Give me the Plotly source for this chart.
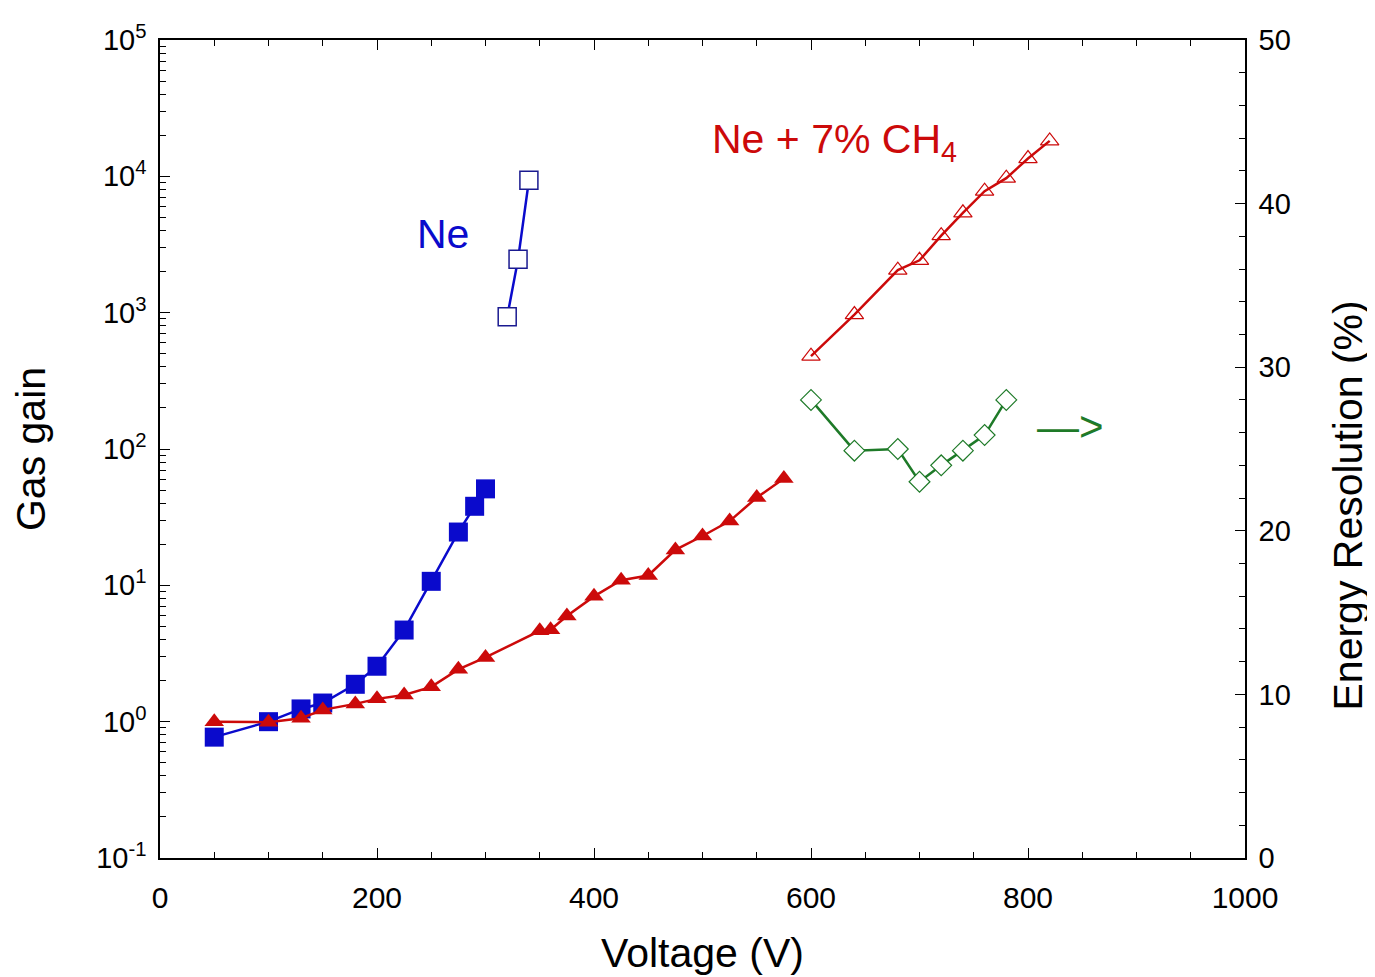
import plotly.graph_objects as go

# Ne (filled squares)
ne_v = [50, 100, 130, 150, 180, 200, 225, 250, 275, 290, 300]
ne_g = [0.77, 1.0, 1.24, 1.37, 1.88, 2.55, 4.7, 10.7, 24.6, 38, 51]

# Ne high gain (open squares)
ne_hi_v = [320, 330, 340]
ne_hi_g = [935, 2460, 9350]

# Ne + 7% CH4 (filled triangles)
mix_v = [50, 100, 130, 150, 180, 200, 225, 250, 275, 300, 350, 360, 375, 400, 425, 450, 475, 500, 525, 550, 575]
mix_g = [1.0, 0.99, 1.06, 1.22, 1.35, 1.47, 1.57, 1.80, 2.42, 2.96, 4.64, 4.72, 5.96, 8.3, 10.9, 11.8, 18.2, 23, 29.6, 44, 60.7]

# Ne + 7% CH4 high gain (open triangles)
mix_hi_v = [600, 640, 680, 700, 720, 740, 760, 780, 800, 820]
mix_hi_g = [480, 968, 2050, 2420, 3670, 5400, 7780, 9700, 13500, 18200]

# Energy resolution (open diamonds, right axis)
res_v = [600, 640, 680, 700, 720, 740, 760, 780]
res_r = [28, 24.9, 25.0, 23, 24.0, 24.9, 25.85, 28]

# Tick labels
x_ticks = [0, 200, 400, 600, 800, 1000]
y_ticks = [0.1, 1, 10, 100, 1000, 10000, 100000]
y_ticktext = ["10<sup>-1</sup>", "10<sup>0</sup>", "10<sup>1</sup>", "10<sup>2</sup>",
              "10<sup>3</sup>", "10<sup>4</sup>", "10<sup>5</sup>"]

BLUE = "#0a0acc"
RED = "#cc0a0a"
GREEN = "#1e7a28"
FONT = "Liberation Sans"

fig = go.Figure()
fig.add_trace(go.Scatter(x=ne_v, y=ne_g, mode="lines+markers",
                         line=dict(color=BLUE, width=2.5),
                         marker=dict(symbol="square", size=19, color=BLUE)))
fig.add_trace(go.Scatter(x=ne_hi_v, y=ne_hi_g, mode="lines+markers",
                         line=dict(color=BLUE, width=2.5),
                         marker=dict(symbol="square", size=18, color="white",
                                     line=dict(color="#1a1a90", width=1.5))))
fig.add_trace(go.Scatter(x=mix_v, y=mix_g, mode="lines+markers",
                         line=dict(color=RED, width=2.5),
                         marker=dict(symbol="triangle-up", size=17, color=RED)))
fig.add_trace(go.Scatter(x=mix_hi_v, y=mix_hi_g, mode="lines+markers",
                         line=dict(color=RED, width=2.5),
                         marker=dict(symbol="triangle-up-open", size=16, color=RED,
                                     line=dict(width=1.2))))
fig.add_trace(go.Scatter(x=res_v, y=res_r, mode="lines+markers", yaxis="y2",
                         line=dict(color=GREEN, width=2.5),
                         marker=dict(symbol="diamond", size=16, color="white",
                                     line=dict(color=GREEN, width=1.2))))

fig.update_layout(
    width=1375, height=977,
    margin=dict(l=152, r=138, t=22, b=127),
    plot_bgcolor="white", paper_bgcolor="white",
    showlegend=False,
    font=dict(family=FONT, color="black", size=28),
    xaxis=dict(range=[0, 1000], tickvals=x_ticks,
               ticks="inside", ticklen=10, tickwidth=1.2, tickcolor="black",
               minor=dict(ticks="inside", ticklen=6, dtick=50, tickcolor="black"),
               showline=True, linecolor="black", linewidth=1.5, mirror="ticks",
               showgrid=False, zeroline=False, ticklabelstandoff=12,
               tickfont=dict(size=30, family=FONT),
               title=dict(text="Voltage (V)", font=dict(size=41, family=FONT), standoff=26)),
    yaxis=dict(type="log", range=[-1, 5], tickvals=y_ticks, ticktext=y_ticktext,
               ticks="inside", ticklen=10, tickwidth=1.2, tickcolor="black",
               minor=dict(ticks="inside", ticklen=6, tickcolor="black",
                          tickvals=[m * 10 ** e for e in range(-1, 5) for m in range(2, 10)]),
               showline=True, linecolor="black", linewidth=1.5,
               showgrid=False, zeroline=False, ticklabelstandoff=6,
               tickfont=dict(size=29, family=FONT),
               title=dict(text="Gas gain", font=dict(size=41, family=FONT), standoff=40)),
    yaxis2=dict(range=[0, 50], overlaying="y", side="right", dtick=10,
                ticks="inside", ticklen=10, tickwidth=1.2, tickcolor="black",
                minor=dict(ticks="inside", ticklen=6, dtick=2, tickcolor="black"),
                showline=True, linecolor="black", linewidth=1.5,
                showgrid=False, zeroline=False, ticklabelstandoff=6,
                tickfont=dict(size=29, family=FONT)),
)

# right axis title placed as an annotation to match its offset position
fig.add_annotation(x=1.095, y=0.431, xref="paper", yref="paper",
                   text="Energy Resolution (%)", textangle=-90, showarrow=False,
                   xanchor="center", yanchor="middle",
                   font=dict(size=41, family=FONT, color="black"))

fig.add_annotation(x=261, y=3.58, xref="x", yref="y", text="Ne", showarrow=False,
                   font=dict(size=41, color=BLUE, family=FONT))
fig.add_annotation(x=507, y=4.25, xref="x", yref="y", xanchor="left",
                   text="Ne + 7% CH<sub>4</sub>",
                   showarrow=False, font=dict(size=41, color=RED, family=FONT))
fig.add_annotation(x=839, y=26.4, xref="x", yref="y2", text="—>", showarrow=False,
                   font=dict(size=42, color=GREEN, family=FONT))

fig.write_html("out.html")
